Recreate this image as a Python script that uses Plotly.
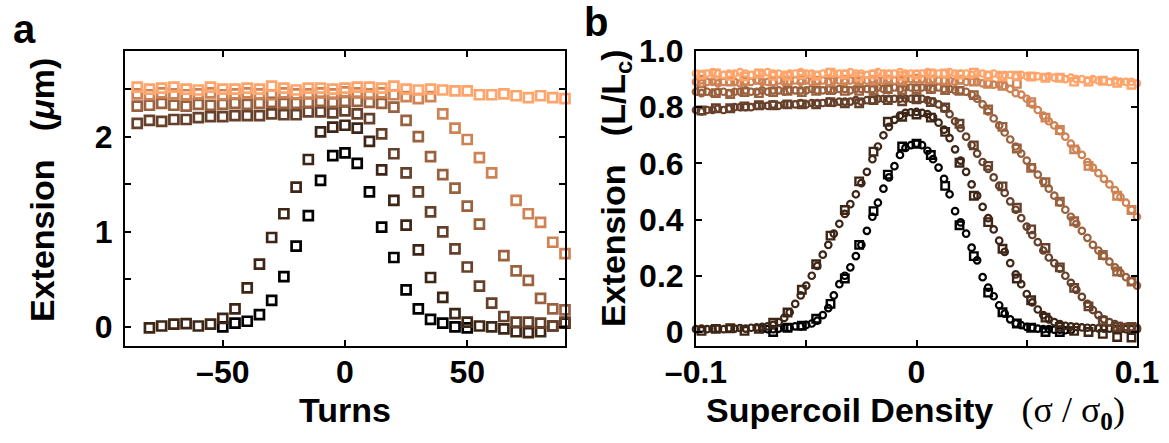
import plotly.graph_objects as go

# ---------------- Panel a : extension (um) vs turns ----------------
TURNS = [-85, -80, -75, -70, -65, -60, -55, -50, -45, -40, -35, -30, -25, -20, -15, -10, -5, 0,
         5, 10, 15, 20, 25, 30, 35, 40, 45, 50, 55, 60, 65, 70, 75, 80, 85, 90]

A1 = [None, None, None, None, None, None, None,
      0.00, 0.04, 0.06, 0.13, 0.28, 0.53, 0.85, 1.17, 1.54, 1.80, 1.83,
      1.72, 1.42, 1.05, 0.73, 0.39, 0.19, 0.08, 0.04, 0.00, -0.01,
      None, None, None, None, None, None, None, None]
A2 = [None, -0.01, 0.01, 0.03, 0.035, 0.01, 0.03, 0.09, 0.19, 0.41, 0.66, 0.94, 1.19, 1.47, 1.76, 2.05, 2.10, 2.12,
      2.09, 1.95, 1.65, 1.33, 1.07, 0.81, 0.52, 0.31, 0.14, 0.05, 0.01, 0.00, -0.02, -0.05, -0.06, -0.05, 0.01, 0.04]
A3 = [2.14, 2.17, 2.16, 2.18, 2.18, 2.20, 2.21, 2.21, 2.22, 2.22, 2.22, 2.24, 2.23, 2.23, 2.26, 2.26, 2.25, 2.27,
      2.24, 2.19, 2.03, 1.82, 1.62, 1.42, 1.21, 1.00, 0.82, 0.63, 0.43, 0.25, 0.11, 0.05, 0.05, 0.04, 0.01, 0.05]
A4 = [2.32, 2.33, 2.35, 2.33, 2.32, 2.34, 2.33, 2.34, 2.35, 2.34, 2.35, 2.36, 2.35, 2.35, 2.36, 2.37, 2.36, 2.37,
      2.37, 2.36, 2.35, 2.31, 2.17, 2.00, 1.79, 1.60, 1.46, 1.27, 1.08, None, 0.75, 0.59, 0.49, 0.30, 0.19, 0.18]
A5 = [2.45, 2.44, 2.46, 2.45, 2.44, 2.45, 2.46, 2.44, 2.45, 2.46, 2.45, 2.44, 2.46, 2.45, 2.45, 2.46, 2.45, 2.47,
      2.46, 2.45, 2.46, 2.44, 2.42, 2.40, 2.42, 2.24, 2.09, 1.97, 1.78, 1.62, None, 1.33, 1.19, 1.10, 0.89, 0.77]
A6 = [2.52, 2.50, 2.51, 2.52, 2.50, 2.49, 2.52, 2.50, 2.50, 2.51, 2.50, 2.53, 2.51, 2.49, 2.51, 2.51, 2.50, 2.51,
      2.52, 2.52, 2.51, 2.53, 2.50, 2.49, 2.50, 2.49, 2.48, 2.48, 2.44, 2.44, 2.45, 2.43, 2.41, 2.43, 2.41, 2.40]

# ---------------- Panel b : squares (measured) ----------------
SIGMA_SQ = [-0.0975, -0.091, -0.0845, -0.078, -0.0715, -0.065, -0.0585, -0.052, -0.0455, -0.039, -0.0325,
            -0.026, -0.0195, -0.013, -0.0065, 0.0, 0.0065, 0.013, 0.0195, 0.026, 0.0325, 0.039, 0.0455,
            0.052, 0.0585, 0.065, 0.0715, 0.078, 0.0845, 0.091, 0.0975]
B1 = [None, None, None, None, None,
      0.0, 0.015, 0.022, 0.047, 0.10, 0.19, 0.31, 0.43, 0.56, 0.66, 0.67, 0.63, 0.52, 0.38, 0.27, 0.14,
      0.07, 0.03, 0.015, 0.0, 0.0,
      None, None, None, None, None]
B2 = [0.004, 0.011, 0.013, 0.004, 0.011, 0.033, 0.069, 0.150, 0.241, 0.343, 0.434, 0.536, 0.642, 0.748, 0.766,
      0.774, 0.763, 0.712, 0.602, 0.485, 0.391, 0.296, 0.190, 0.113, 0.051, 0.018, 0.004, 0.0, -0.007,
      -0.018, -0.020]
B3 = [0.788, 0.796, 0.796, 0.803, 0.807, 0.807, 0.810, 0.810, 0.810, 0.818, 0.814, 0.814, 0.825, 0.825, 0.821,
      0.828, 0.818, 0.799, 0.741, 0.664, 0.591, 0.518, 0.442, 0.365, 0.299, 0.230, 0.157, 0.091, 0.040,
      0.018, 0.018]
B4 = [0.858, 0.850, 0.847, 0.854, 0.850, 0.854, 0.858, 0.854, 0.858, 0.861, 0.858, 0.858, 0.861, 0.865, 0.861,
      0.865, 0.865, 0.861, 0.858, 0.843, 0.792, 0.730, 0.653, 0.584, 0.533, 0.464, 0.394, None, 0.274,
      0.215, 0.179]
B5 = [0.898, 0.894, 0.891, 0.894, 0.898, 0.891, 0.894, 0.898, 0.894, 0.891, 0.898, 0.894, 0.894, 0.898, 0.894,
      0.901, 0.898, 0.894, 0.898, 0.891, 0.883, 0.876, 0.883, 0.818, 0.763, 0.719, 0.650, 0.591, None,
      0.485, 0.434]
B6 = [0.916, 0.920, 0.912, 0.909, 0.920, 0.912, 0.912, 0.916, 0.912, 0.923, 0.916, 0.909, 0.916, 0.916, 0.912,
      0.916, 0.920, 0.920, 0.916, 0.923, 0.912, 0.909, 0.912, 0.909, 0.905, 0.905, 0.891, 0.891, 0.894,
      0.887, 0.880]

# ---------------- Panel b : circles ----------------
SIGMA_C = [-0.1, -0.0975, -0.095, -0.0925, -0.09, -0.0875, -0.085, -0.0825, -0.08, -0.0775,
           -0.075, -0.0725, -0.07, -0.0675, -0.065, -0.0625, -0.06, -0.0575, -0.055, -0.0525,
           -0.05, -0.0475, -0.045, -0.0425, -0.04, -0.0375, -0.035, -0.0325, -0.03, -0.0275,
           -0.025, -0.0225, -0.02, -0.0175, -0.015, -0.0125, -0.01, -0.0075, -0.005, -0.0025,
           0.0,
           0.0025, 0.005, 0.0075, 0.01, 0.0125, 0.015, 0.0175, 0.02, 0.0225, 0.025,
           0.0275, 0.03, 0.0325, 0.035, 0.0375, 0.04, 0.0425, 0.045, 0.0475, 0.05,
           0.0525, 0.055, 0.0575, 0.06, 0.0625, 0.065, 0.0675, 0.07, 0.0725, 0.075,
           0.0775, 0.08, 0.0825, 0.085, 0.0875, 0.09, 0.0925, 0.095, 0.0975, 0.1]
C1 = [None, None, None, None, None, None, None, None, None, None, None, None,
      0.01, 0.01, 0.01, 0.012, 0.015, 0.015, 0.02, 0.02, 0.025, 0.03, 0.04, 0.06, 0.085, 0.13,
      0.17, 0.20, 0.23, 0.27, 0.31, 0.36, 0.41, 0.46, 0.51, 0.55, 0.59, 0.63, 0.655, 0.665,
      0.67,
      0.665, 0.645, 0.615, 0.585, 0.545, 0.49, 0.43, 0.39, 0.35, 0.30, 0.255, 0.195, 0.158, 0.127,
      0.095, 0.065, 0.045, 0.03, 0.024, 0.018, 0.015, 0.012, 0.01, 0.01, 0.008, 0.008, 0.006, 0.006,
      None, None, None, None, None, None, None, None, None, None, None, None]
C2 = [0.01, 0.012, 0.01, 0.011, 0.012, 0.01, 0.013, 0.012, 0.014, 0.012, 0.015, 0.016, 0.018,
      0.02, 0.025, 0.035, 0.05, 0.07, 0.10, 0.13, 0.165, 0.20, 0.235, 0.275, 0.31, 0.35, 0.385,
      0.42, 0.455, 0.49, 0.53, 0.57, 0.615, 0.66, 0.70, 0.73, 0.755, 0.77, 0.78, 0.782,
      0.783,
      0.78, 0.775, 0.765, 0.745, 0.72, 0.69, 0.65, 0.61, 0.57, 0.525, 0.485, 0.445, 0.405, 0.365,
      0.325, 0.285, 0.245, 0.205, 0.17, 0.135, 0.105, 0.08, 0.06, 0.045, 0.035, 0.028, 0.022,
      0.02, 0.018, 0.016, 0.015, 0.014, 0.013, 0.012, 0.012, 0.011, 0.01, 0.01, 0.01, 0.01]
C3 = [0.79, 0.785, 0.79, 0.79, 0.795, 0.79, 0.795, 0.80, 0.80, 0.80, 0.80, 0.805, 0.805, 0.805,
      0.81, 0.805, 0.81, 0.81, 0.81, 0.815, 0.81, 0.815, 0.815, 0.815, 0.82, 0.815, 0.82, 0.82,
      0.82, 0.825, 0.82, 0.825, 0.825, 0.83, 0.83, 0.83, 0.83, 0.83, 0.83, 0.83,
      0.83,
      0.83, 0.825, 0.82, 0.81, 0.795, 0.775, 0.75, 0.725, 0.695, 0.665, 0.635, 0.605, 0.58, 0.55,
      0.52, 0.495, 0.465, 0.435, 0.405, 0.375, 0.345, 0.32, 0.29, 0.265, 0.245, 0.225, 0.20, 0.175,
      0.15, 0.125, 0.10, 0.078, 0.06, 0.045, 0.035, 0.028, 0.022, 0.018, 0.016, 0.015]
C4 = [0.855, 0.85, 0.855, 0.85, 0.855, 0.855, 0.85, 0.855, 0.855, 0.86, 0.855, 0.855, 0.86, 0.855,
      0.86, 0.86, 0.855, 0.86, 0.86, 0.86, 0.86, 0.865, 0.86, 0.86, 0.865, 0.86, 0.865, 0.865,
      0.86, 0.865, 0.865, 0.865, 0.865, 0.87, 0.865, 0.865, 0.87, 0.865, 0.87, 0.87,
      0.87,
      0.87, 0.87, 0.865, 0.87, 0.865, 0.865, 0.86, 0.86, 0.855, 0.845, 0.83, 0.81, 0.785, 0.76,
      0.735, 0.71, 0.685, 0.66, 0.635, 0.61, 0.585, 0.56, 0.535, 0.51, 0.485, 0.46, 0.435, 0.41,
      0.385, 0.36, 0.335, 0.31, 0.29, 0.27, 0.25, 0.23, 0.21, 0.195, 0.18, 0.165]
C5 = [0.89, 0.885, 0.89, 0.89, 0.885, 0.89, 0.89, 0.89, 0.885, 0.89, 0.89, 0.895, 0.89, 0.89,
      0.89, 0.895, 0.89, 0.89, 0.895, 0.89, 0.895, 0.89, 0.895, 0.895, 0.89, 0.895, 0.895, 0.89,
      0.895, 0.895, 0.895, 0.895, 0.90, 0.895, 0.895, 0.90, 0.895, 0.895, 0.90, 0.90,
      0.90,
      0.90, 0.895, 0.90, 0.895, 0.895, 0.895, 0.89, 0.895, 0.89, 0.89, 0.89, 0.885, 0.885, 0.88,
      0.88, 0.875, 0.865, 0.85, 0.845, 0.83, 0.81, 0.79, 0.77, 0.75, 0.735, 0.715, 0.695, 0.67,
      0.65, 0.63, 0.605, 0.585, 0.565, 0.545, 0.525, 0.505, 0.48, 0.46, 0.435, 0.41]
C6 = [0.92, 0.915, 0.92, 0.925, 0.92, 0.915, 0.92, 0.92, 0.925, 0.92, 0.915, 0.92, 0.92, 0.925,
      0.92, 0.92, 0.915, 0.92, 0.92, 0.925, 0.92, 0.92, 0.915, 0.92, 0.925, 0.92, 0.92, 0.92,
      0.925, 0.92, 0.92, 0.915, 0.92, 0.925, 0.92, 0.92, 0.92, 0.925, 0.92, 0.92,
      0.92,
      0.92, 0.925, 0.92, 0.92, 0.92, 0.925, 0.92, 0.92, 0.92, 0.915, 0.92, 0.92, 0.915, 0.92,
      0.915, 0.915, 0.915, 0.91, 0.915, 0.91, 0.91, 0.91, 0.905, 0.91, 0.905, 0.905, 0.90, 0.905,
      0.90, 0.90, 0.895, 0.90, 0.895, 0.895, 0.89, 0.895, 0.89, 0.89, 0.89, 0.885]

COLORS = ["#000000", "#3e2617", "#66402a", "#9a613e", "#cf8253", "#ffa46a"]

A_SERIES = [A1, A2, A3, A4, A5, A6]
B_SERIES = [B1, B2, B3, B4, B5, B6]
C_SERIES = [C1, C2, C3, C4, C5, C6]
for s in A_SERIES:
    assert len(s) == len(TURNS)
for s in B_SERIES:
    assert len(s) == len(SIGMA_SQ)
for s in C_SERIES:
    assert len(s) == len(SIGMA_C), len(s)

FONT = "Liberation Sans, Arial, Helvetica, sans-serif"
W, H = 1169, 443
PL, PR, PT, PB = 125, 565, 51, 346
QL, QR = 696, 1137

fig = go.Figure()

for ys, col in zip(A_SERIES, COLORS):
    fig.add_trace(go.Scatter(
        x=TURNS, y=ys, mode="markers", xaxis="x", yaxis="y", cliponaxis=False,
        marker=dict(symbol="square-open", size=9, color=col, line=dict(width=2.7, color=col)),
        showlegend=False))

for sq, ci, col in zip(B_SERIES, C_SERIES, COLORS):
    fig.add_trace(go.Scatter(
        x=SIGMA_SQ, y=sq, mode="markers", xaxis="x2", yaxis="y2", cliponaxis=False,
        marker=dict(symbol="square-open", size=7.5, color=col, line=dict(width=2.4, color=col)),
        showlegend=False))
    fig.add_trace(go.Scatter(
        x=SIGMA_C, y=ci, mode="markers", xaxis="x2", yaxis="y2", cliponaxis=False,
        marker=dict(symbol="circle-open", size=6.5, color=col, line=dict(width=2.2, color=col)),
        showlegend=False))

tickfont = dict(family=FONT, size=32, color="black", weight="bold")
common = dict(showline=True, linecolor="black", linewidth=2, mirror="ticks", ticks="inside",
              ticklen=6, tickwidth=2, tickcolor="black", showgrid=False, zeroline=False,
              tickfont=tickfont, automargin=False)
minor_style = dict(ticks="inside", ticklen=6, tickwidth=2, tickcolor="black", showgrid=False)

fig.update_layout(
    template="none",
    width=W, height=H,
    margin=dict(l=0, r=0, t=PT, b=H - PB, pad=0),
    paper_bgcolor="white", plot_bgcolor="white",
    xaxis=dict(domain=[PL / W, PR / W], range=[-90, 90], anchor="y",
               tickvals=[-50, 0, 50], ticktext=["\u201350", "0", "50"], ticklabelstandoff=-3, **common),
    yaxis=dict(domain=[0, 1], range=[-0.2, 2.9], anchor="x",
               tickvals=[0, 1, 2], ticktext=["0", "1", "2"],
               minor=dict(tickvals=[0.5, 1.5, 2.5], **minor_style),
               ticklabelstandoff=4, **common),
    xaxis2=dict(domain=[QL / W, QR / W], range=[-0.1, 0.1], anchor="y2",
                tickvals=[-0.1, 0, 0.1], ticktext=["\u20130.1", "0", "0.1"],
                minor=dict(tickvals=[-0.05, 0.05], **minor_style),
                ticklabelstandoff=-3, **common),
    yaxis2=dict(domain=[0, 1], range=[-0.05, 1.0], anchor="x2",
                tickvals=[0, 0.2, 0.4, 0.6, 0.8, 1.0], ticktext=["0", "0.2", "0.4", "0.6", "0.8", "1.0"],
                ticklabelstandoff=4, **common),
)


def py(p):
    return (PB - p) / (PB - PT)


titlefont = dict(family=FONT, size=34, color="black")
ann = [
    dict(text="<b>a</b>", x=24 / W, y=py(29), font=dict(family=FONT, size=40, color="black")),
    dict(text="<b>b</b>", x=596 / W, y=py(22), font=dict(family=FONT, size=40, color="black")),
    dict(text="<b>Turns</b>", x=345 / W, y=py(410), font=titlefont),
    dict(text="<b>Extension\u00a0\u00a0\u00a0(<i>\u03bc</i>m)</b>", x=42 / W, y=py(190),
         textangle=-90, font=titlefont),
    dict(text="<b>Supercoil Density</b>\u00a0\u00a0\u00a0"
              "<span style=\"font-family:Liberation Serif;font-size:36px\">(\u03c3 / \u03c3<sub><b>0</b></sub>)</span>",
         x=915 / W, y=py(412), font=titlefont),
    dict(text="<b>Extension\u00a0\u00a0\u00a0(L/L<sub>c</sub>)</b>", x=615 / W, y=py(188),
         textangle=-90, font=titlefont),
]
for a in ann:
    a.update(xref="paper", yref="paper", showarrow=False, xanchor="center", yanchor="middle")
fig.update_layout(annotations=ann)

fig.write_html("out.html")
